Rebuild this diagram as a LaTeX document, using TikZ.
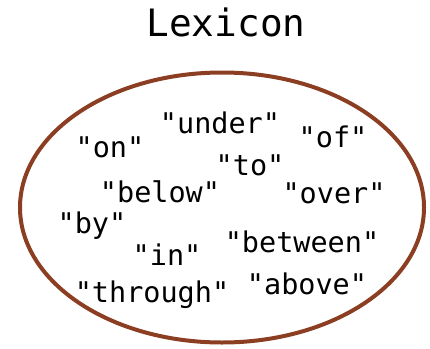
\documentclass[tikz,border=0pt]{standalone}
\usepackage{fontspec}
\setmonofont{DejaVu Sans Mono}
\definecolor{setrim}{RGB}{139,62,34}
\begin{document}
\begin{tikzpicture}[x=1pt,y=-1pt,
  word/.style={font=\ttfamily\fontsize{28.5}{28.5}\selectfont, anchor=base, inner sep=0pt},
  heading/.style={font=\ttfamily\fontsize{37.7}{37.7}\selectfont, anchor=base, inner sep=0pt},
  setborder/.style={draw=setrim, line width=4pt}]
\useasboundingbox (0,0) rectangle (430,348);
% the set drawn as an ellipse
\draw[setborder] (222,207.5) ellipse [x radius=202, y radius=135];
\node[heading] (title) at (226,36) {Lexicon};
% members of the set
\node[word] (under)   at (220,133) {"under"};
\node[word] (on)      at (110,157) {"on"};
\node[word] (of)      at (333,147) {"of"};
\node[word] (to)      at (250,175) {"to"};
\node[word] (below)   at (160,202) {"below"};
\node[word] (over)    at (334,203) {"over"};
\node[word] (by)      at (92,233)  {"by"};
\node[word] (in)      at (167,265) {"in"};
\node[word] (between) at (302,252) {"between"};
\node[word] (through) at (152,302) {"through"};
\node[word] (above)   at (307,294) {"above"};
\end{tikzpicture}
\end{document}
